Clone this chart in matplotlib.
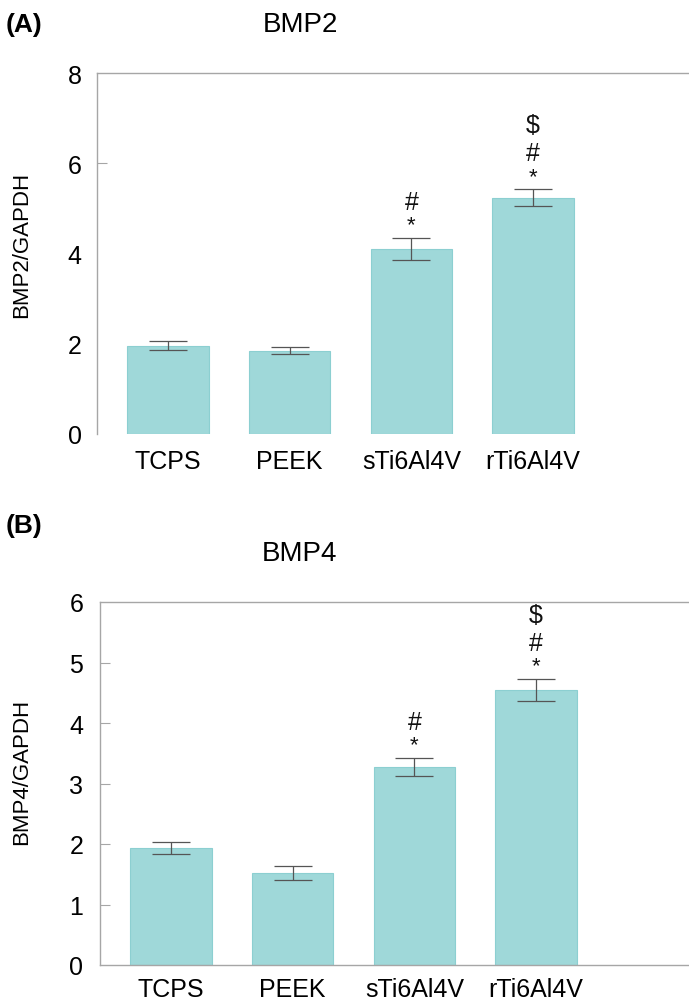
import matplotlib
matplotlib.use("Agg")
import matplotlib.pyplot as plt
import numpy as np

plt.rcParams['font.family'] = ['Liberation Sans', 'DejaVu Sans']

categories = ["TCPS", "PEEK", "sTi6Al4V", "rTi6Al4V"]
bmp2_mean = [1.96, 1.85, 4.10, 5.24]
bmp2_err = [0.10, 0.07, 0.25, 0.18]
bmp2_marks = ["", "", "*#", "*#$"]
bmp4_mean = [1.93, 1.52, 3.27, 4.55]
bmp4_err = [0.10, 0.12, 0.15, 0.18]
bmp4_marks = ["", "", "*#", "*#$"]

BAR = "#9fd8d9"
EDGE = "#8ccfd1"
SPINE = "#a6a6a6"
ERR = "#555555"

W, H = 689, 1003
fig = plt.figure(figsize=(W / 100, H / 100), dpi=100)

def panel(left_px, top_px, bottom_px, means, errs, marks, ymax, yticks, ylabel,
          title, letter, title_y, letter_y, xlim, bottom_spine, visible_ticks,
          ypad, xpad, label_y_px):
    rect = [left_px / W, 1 - bottom_px / H, 1 - left_px / W, (bottom_px - top_px) / H]
    ax = fig.add_axes(rect)
    x = np.arange(len(categories))
    ax.bar(x, means, width=0.67, color=BAR, edgecolor=EDGE, linewidth=0.8, zorder=2)
    ax.errorbar(x, means, yerr=errs, fmt='none', ecolor=ERR, elinewidth=0.9,
                capsize=14, capthick=0.9, zorder=3)
    offsets = {"*": 13, "#": 36, "$": 64}
    sizes = {"*": 16, "#": 18, "$": 18}
    for xi, m, e, mk in zip(x, means, errs, marks):
        for ch in mk:
            ax.annotate(ch, xy=(xi, m + e), xytext=(0, offsets[ch] * 0.72),
                        textcoords='offset points', ha='center', va='center',
                        fontsize=sizes[ch], color='#111111')
    ax.set_xlim(*xlim)
    ax.set_ylim(0, ymax)
    ax.set_yticks(yticks)
    ax.set_xticks(x)
    ax.set_xticklabels(categories)
    ax.tick_params(axis='x', length=0, pad=xpad, labelsize=18)
    ax.tick_params(axis='y', direction='in', length=7, width=0.8, color=SPINE,
                   pad=ypad, labelsize=18)
    for i, t in enumerate(ax.yaxis.get_major_ticks()):
        if i not in visible_ticks:
            t.tick1line.set_visible(False)
    for s in ['left', 'top', 'bottom', 'right']:
        ax.spines[s].set_color(SPINE)
        ax.spines[s].set_linewidth(1.0)
    ax.spines['right'].set_visible(False)
    ax.spines['bottom'].set_visible(bottom_spine)
    ax.set_ylabel(ylabel, fontsize=16)
    axw = W - left_px
    axh = bottom_px - top_px
    ax.yaxis.set_label_coords((32 - left_px) / axw, (bottom_px - label_y_px) / axh)
    fig.text(300 / W, title_y, title, fontsize=20, ha='center', va='center')
    fig.text(6 / W, letter_y, letter, fontsize=19, fontweight='bold',
             ha='left', va='center')
    return ax

axA = panel(97, 74, 435, bmp2_mean, bmp2_err, bmp2_marks, 8, [0, 2, 4, 6, 8],
            "BMP2/GAPDH", "BMP2", "(A)", 1 - 25 / H, 1 - 25 / H,
            (-0.583, 4.28), False, [3], 11, 11, 245)
axB = panel(100, 603, 966, bmp4_mean, bmp4_err, bmp4_marks, 6, [0, 1, 2, 3, 4, 5, 6],
            "BMP4/GAPDH", "BMP4", "(B)", 1 - 554 / H, 1 - 526 / H,
            (-0.583, 4.256), True, [1, 2, 3, 4, 5], 12, 9, 772)

fig.savefig("out.png", dpi=100)
